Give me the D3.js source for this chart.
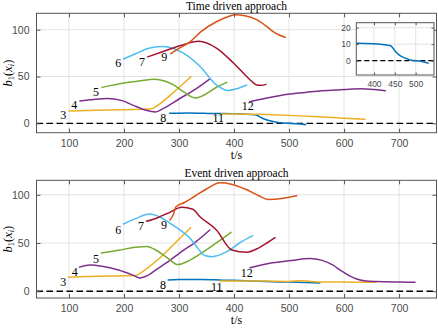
<!DOCTYPE html>
<html><head><meta charset="utf-8">
<script src="https://cdn.jsdelivr.net/npm/d3@7"></script>
<style>body{margin:0;background:#fff}svg{display:block}</style>
</head><body>
<svg id="c" width="438" height="328"></svg>
<script>
// ---- data ----
const colors = {blue:"#0072BD",orange:"#D95319",yellow:"#EDB120",purple:"#7E2F8E",green:"#77AC30",cyan:"#4DBEEE",red:"#A2142F"};
const xTicks = [100,200,300,400,500,600,700];
const yTicks = [0,50,100];
const insetXTicks = [400,450,500];
const insetYTicks = [0,10,20];

// Time driven approach: [t, b1]
const time3  = [[100,13.3],[150,14],[200,14.6],[248,15.2],[258,18],[290,33],[322,50]];
const time4  = [[120,23.8],[145,25.5],[170,26.5],[195,24.5],[216,19.5],[240,14],[257,12.2],[272,16],[300,26],[330,36.5],[355,47]];
const time5  = [[160,38.4],[200,43],[230,45.5],[255,47.2],[275,45],[290,41],[310,33],[330,27],[345,30],[368,38.5],[387,43.8]];
const time6  = [[199,68.7],[220,74],[247,80.5],[271,82],[290,80],[308,75],[338,61],[368,41],[389,35],[405,37],[423,41]];
const time7  = [[243,71],[270,76.5],[308,84],[336,87.6],[368,80.4],[399,64.4],[429,46.6],[441,41],[450,40.6],[458,41.6]];
const time9  = [[285,74.4],[300,80],[320,87],[340,98],[368,108.5],[385,113],[402,116],[420,115],[441,110.7],[458,104],[471,98],[483,94],[493,92]];
const time8  = [[283,10.7],[320,11],[360,10.5],[400,10.3],[430,9.5],[440,9],[450,6],[460,3.5],[475,1.5],[490,0.3],[500,0],[520,-0.8],[530,-1.5]];
const time11 = [[377,10],[400,10],[443,9.6],[500,8.5],[553,7],[600,5.5],[638,4.3]];
const time12 = [[428.5,23],[460,27],[498,31],[530,33],[559,34.8],[600,36],[630,36.8],[655,36],[675,34.8]];

// Event driven approach
const event3  = [[99,14.5],[150,15.5],[200,16],[220,16.2],[240,23],[265,34.5],[293,50],[321,65.9]];
const event4  = [[119,25],[138,27.3],[160,26],[190,22],[215,17],[229,13.8],[240,15.5],[260,23],[284,32.3],[301,39.6],[330,51],[356,63.5]];
const event5  = [[159,39.6],[190,42.5],[220,45.5],[241,46.5],[260,42],[280,34],[298,27.6],[320,32.3],[345,41],[370,51],[394.5,61]];
const event6  = [[199,69.7],[220,75],[247,80],[265,77],[284,70.4],[303,63],[320,55],[335,44],[347,37],[360,35.8],[387,41],[410,50],[434,57.6]];
const event7  = [[241,72.5],[260,76],[280,81],[305,87],[325,85],[338,77.3],[368,63.5],[396,42.8],[423,40.4],[445,45],[460,50],[474.5,55.5]];
const event9  = [[283.6,73.8],[290,80],[294.5,87.6],[310,92],[330,99],[350,106],[374.5,112.4],[395,111],[420,106],[445,99],[462,95.2],[490,96.5],[514,99]];
const event8  = [[280.5,11.7],[300,12.1],[340,12.2],[380,11.5],[420,11],[460,10],[500,9.5],[530,9],[556,8.5]];
const event11 = [[374.5,10.7],[420,10.5],[460,10.5],[500,10],[518,11],[540,10.2],[560,9.5],[600,9.5],[640,9.3],[659,9.5]];
const event12 = [[429,24.4],[465,29],[500,31.5],[538,34],[560,32],[580,27],[593,22],[610,16],[623,12.7],[640,10.5],[659,10],[700,9.5],[729,9.3]];

const timeSeries = [
  {d:time3,c:"yellow"},{d:time4,c:"purple"},{d:time5,c:"green"},{d:time6,c:"cyan"},{d:time7,c:"red"},
  {d:time9,c:"orange"},{d:time8,c:"blue"},{d:time11,c:"yellow"},{d:time12,c:"purple"}];
const eventSeries = [
  {d:event3,c:"yellow"},{d:event4,c:"purple"},{d:event5,c:"green"},{d:event6,c:"cyan"},{d:event7,c:"red"},
  {d:event9,c:"orange"},{d:event8,c:"blue"},{d:event11,c:"yellow"},{d:event12,c:"purple"}];

// labels: [text, t, b1]
const timeLabels  = [["3",89.6,8.9],["4",109.6,19.6],["5",149,33.4],["6",189.6,64.1],["7",232.7,65.5],["9",273.3,70.5],["8",271.5,5.3],["11",371.5,5.3],["12",425,18.8]];
const eventLabels = [["3",89.6,9.3],["4",110.4,19.7],["5",149,33.4],["6",189.6,63.8],["7",231,67.3],["9",272.7,68.3],["8",270.9,6.2],["11",368.5,4.8],["12",423,18.6]];

// ---- drawing ----
const svg = d3.select("#c");
const serif = "'Liberation Serif','DejaVu Serif',serif";
const sans = "'Liberation Sans',Arial,sans-serif";

function panel(opts){
  const {x, y, series, labels, xt, yt, tickSize, fs, clipId, dashed} = opts;
  const g = svg.append("g");
  const [x0,x1] = x.range(), [y0,y1] = y.range();
  g.append("rect").attr("x",x0).attr("y",y1).attr("width",x1-x0).attr("height",y0-y1).attr("fill","#fff");
  g.selectAll(".gx").data(xt).join("line").attr("x1",d=>x(d)).attr("x2",d=>x(d)).attr("y1",y0).attr("y2",y1)
    .attr("stroke","#e3e3e3").attr("stroke-width",1);
  g.selectAll(".gy").data(yt).join("line").attr("y1",d=>y(d)).attr("y2",d=>y(d)).attr("x1",x0).attr("x2",x1)
    .attr("stroke","#e3e3e3").attr("stroke-width",1);
  svg.append("clipPath").attr("id",clipId).append("rect").attr("x",x0).attr("y",y1).attr("width",x1-x0).attr("height",y0-y1);
  const pg = g.append("g").attr("clip-path",`url(#${clipId})`);
  pg.append("line").attr("x1",x0).attr("x2",x1).attr("y1",y(0)).attr("y2",y(0))
    .attr("stroke","#000").attr("stroke-width",1.3).attr("stroke-dasharray",dashed);
  const line = d3.line().x(d=>x(d[0])).y(d=>y(d[1])).curve(d3.curveMonotoneX);
  series.forEach(s=>{
    pg.append("path").attr("d",line(s.d)).attr("fill","none").attr("stroke",colors[s.c]).attr("stroke-width",1.5)
      .attr("stroke-linejoin","round").attr("stroke-linecap","round");
  });
  if(labels){
    g.selectAll(".lab").data(labels).join("text").attr("x",d=>x(d[1])).attr("y",d=>y(d[2]))
      .attr("text-anchor","middle").attr("dominant-baseline","central")
      .attr("font-family",serif).attr("font-size",12).attr("fill","#000").text(d=>d[0]);
  }
  const ax = d3.axisBottom(x).tickValues(xt).tickSizeInner(-tickSize).tickSizeOuter(0).tickPadding(tickSize+3);
  const axT = d3.axisTop(x).tickValues(xt).tickSizeInner(-tickSize).tickSizeOuter(0).tickFormat("");
  const ay = d3.axisLeft(y).tickValues(yt).tickSizeInner(-tickSize).tickSizeOuter(0).tickPadding(tickSize+3);
  const ayR = d3.axisRight(y).tickValues(yt).tickSizeInner(-tickSize).tickSizeOuter(0).tickFormat("");
  const style = a => { a.select(".domain").remove(); a.selectAll("line").attr("stroke","#555");
    a.selectAll("text").attr("font-family",sans).attr("font-size",fs).attr("fill","#4a4a4a"); };
  g.append("g").attr("transform",`translate(0,${y0})`).call(ax).call(style);
  g.append("g").attr("transform",`translate(0,${y1})`).call(axT).call(style);
  g.append("g").attr("transform",`translate(${x0},0)`).call(ay).call(style);
  g.append("g").attr("transform",`translate(${x1},0)`).call(ayR).call(style);
  g.append("rect").attr("x",x0).attr("y",y1).attr("width",x1-x0).attr("height",y0-y1)
    .attr("fill","none").attr("stroke","#555").attr("stroke-width",1);
  return g;
}

function mainPanel(yr, yd, series, labels, title, id){
  const x = d3.scaleLinear().domain([41,768]).range([36.5,436.5]);
  const y = d3.scaleLinear().domain(yd).range(yr);
  panel({x,y,series,labels,xt:xTicks,yt:yTicks,tickSize:4,fs:10.5,clipId:id,dashed:"6.5,3.5"});
  const cx = (x.range()[0]+x.range()[1])/2;
  svg.append("text").attr("x",cx).attr("y",yr[1]-3.3).attr("text-anchor","middle")
    .attr("font-family",serif).attr("font-size",11.5).attr("fill","#000").text(title);
  svg.append("text").attr("x",cx).attr("y",yr[0]+26).attr("text-anchor","middle")
    .attr("font-family",serif).attr("font-size",12).attr("fill","#000").text("t/s");
  const cy = (yr[0]+yr[1])/2;
  const yl = svg.append("text").attr("transform",`translate(11.5,${cy}) rotate(-90)`).attr("text-anchor","middle")
    .attr("font-family",serif).attr("font-size",12.5).attr("fill","#000");
  yl.append("tspan").attr("font-style","italic").text("b");
  yl.append("tspan").attr("font-size",8.5).attr("dy",2.5).text("1");
  yl.append("tspan").attr("dy",-2.5).text("(");
  yl.append("tspan").attr("font-style","italic").text("x");
  yl.append("tspan").attr("font-size",8.5).attr("font-style","italic").attr("dy",2.5).text("i");
  yl.append("tspan").attr("dy",-2.5).text(")");
}

mainPanel([132.7,13.3],[-10,117.5],timeSeries,timeLabels,"Time driven approach","clipTop");
mainPanel([298,180.3],[-7,115],eventSeries,eventLabels,"Event driven approach","clipBot");

// inset
{
  const x = d3.scaleLinear().domain([357.5,544]).range([356.3,434]);
  const y = d3.scaleLinear().domain([-8.7,23]).range([75,22.7]);
  panel({x,y,series:[{d:time8,c:"blue"}],labels:null,xt:insetXTicks,yt:insetYTicks,tickSize:2.5,fs:8.5,clipId:"clipIn",dashed:"5,3"});
}
</script>
</body></html>
